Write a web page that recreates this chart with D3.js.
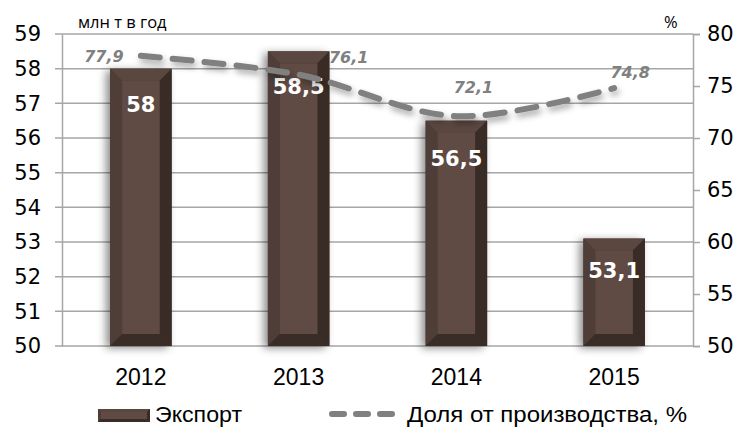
<!DOCTYPE html>
<html lang="ru">
<head>
<meta charset="utf-8">
<title>Экспорт</title>
<script src="https://cdn.jsdelivr.net/npm/d3@7"></script>
<style>
  body { margin: 0; background: #fff; }
  .tick text { fill: #000; }
</style>
</head>
<body>
<div id="chart"></div>
<script>
// data
var years = ["2012", "2013", "2014", "2015"];
var exportVals = [58, 58.5, 56.5, 53.1];
var shareVals = [77.9, 76.1, 72.1, 74.8];
var leftTicks = [50, 51, 52, 53, 54, 55, 56, 57, 58, 59];
var rightTicks = [50, 55, 60, 65, 70, 75, 80];

var width = 745, height = 428;
var m = {left: 62, right: 52, top: 34, bottom: 82};

var svg = d3.select("#chart").append("svg")
    .attr("width", width).attr("height", height)
    .style("font-family", "'DejaVu Sans', sans-serif");

var defs = svg.append("defs");
var sh = defs.append("filter").attr("id", "barShadow")
    .attr("x", "-40%").attr("y", "-20%").attr("width", "160%").attr("height", "140%");
sh.append("feDropShadow").attr("dx", -4).attr("dy", 2).attr("stdDeviation", 4)
    .attr("flood-color", "#000").attr("flood-opacity", 0.45);
var lsh = defs.append("filter").attr("id", "lineShadow")
    .attr("x", "-10%").attr("y", "-50%").attr("width", "120%").attr("height", "200%");
lsh.append("feDropShadow").attr("dx", 2).attr("dy", 4).attr("stdDeviation", 3)
    .attr("flood-color", "#000").attr("flood-opacity", 0.35);

var x = d3.scaleBand().domain(years).range([m.left, width - m.right]).paddingInner(0.61).paddingOuter(0.305);
var y = d3.scaleLinear().domain([50, 59]).range([height - m.bottom, m.top]);
var y2 = d3.scaleLinear().domain([50, 80]).range([height - m.bottom, m.top]);
var xc = function(d) { return x(d) + x.bandwidth() / 2; };

// gridlines
svg.append("g").selectAll("line").data(leftTicks).enter().append("line")
    .attr("x1", m.left - 7).attr("x2", width - m.right)
    .attr("y1", function(d) { return y(d); }).attr("y2", function(d) { return y(d); })
    .attr("stroke", "#a6a6a6").attr("stroke-width", 1.5);

// axes
var la = svg.append("g").attr("transform", "translate(" + m.left + ",0)")
    .call(d3.axisLeft(y).tickValues(leftTicks).tickSize(0).tickPadding(21));
la.select(".domain").attr("stroke", "#a6a6a6").attr("stroke-width", 1.5);
la.selectAll("text").style("font-size", "21px").style("font-family", "'DejaVu Sans', sans-serif");

var ra = svg.append("g").attr("transform", "translate(" + (width - m.right) + ",0)")
    .call(d3.axisRight(y2).tickValues(rightTicks).tickSize(7).tickPadding(7));
ra.select(".domain").attr("stroke", "#a6a6a6").attr("stroke-width", 1.5);
ra.selectAll(".tick line").attr("stroke", "#a6a6a6").attr("stroke-width", 1.5);
ra.selectAll("text").style("font-size", "21px").style("font-family", "'DejaVu Sans', sans-serif");

// year labels
svg.append("g").selectAll("text").data(years).enter().append("text")
    .attr("x", xc).attr("y", 385)
    .attr("text-anchor", "middle")
    .style("font-family", "'Liberation Sans', Arial, sans-serif").style("font-size", "23px")
    .text(function(d) { return d; });

// units
svg.append("text").attr("x", 78).attr("y", 28).style("font-size", "16.5px")
    .style("font-family", "'Open Sans', sans-serif").text("млн т в год");
svg.append("text").attr("x", 664).attr("y", 28).style("font-size", "16.5px")
    .style("font-family", "'Open Sans', sans-serif").text("%");

// bevel bar
function bevelBar(g, x0, y0, w, h, bv) {
    g.append("rect").attr("x", x0).attr("y", y0).attr("width", w).attr("height", h)
        .attr("fill", "#47372f").attr("filter", "url(#barShadow)");
    var x1 = x0 + w, y1 = y0 + h;
    var poly = function(pts, c) {
        g.append("polygon").attr("points", pts.map(function(p) { return p.join(","); }).join(" ")).attr("fill", c);
    };
    poly([[x0, y0], [x1, y0], [x1 - bv, y0 + bv], [x0 + bv, y0 + bv]], "#5a4840");
    poly([[x0, y0], [x0 + bv, y0 + bv], [x0 + bv, y1 - bv], [x0, y1]], "#4f3e37");
    poly([[x1, y0], [x1, y1], [x1 - bv, y1 - bv], [x1 - bv, y0 + bv]], "#392b26");
    poly([[x0, y1], [x0 + bv, y1 - bv], [x1 - bv, y1 - bv], [x1, y1]], "#3a2d28");
    g.append("rect").attr("x", x0 + bv).attr("y", y0 + bv).attr("width", w - 2 * bv).attr("height", Math.max(0, h - 2 * bv))
        .attr("fill", "#5f4b43");
}

var bars = svg.append("g");
years.forEach(function(yr, i) {
    var g = bars.append("g");
    bevelBar(g, x(yr), y(exportVals[i]), x.bandwidth(), y(50) - y(exportVals[i]), 12);
});

// share line
var line = d3.line().x(function(d, i) { return xc(years[i]); }).y(function(d) { return y2(d); })
    .curve(d3.curveCatmullRom.alpha(0.5));
svg.append("path").datum(shareVals).attr("d", line)
    .attr("fill", "none").attr("stroke", "#808080").attr("stroke-width", 6)
    .attr("stroke-dasharray", "19,13").attr("stroke-linecap", "round")
    .attr("filter", "url(#lineShadow)");

// bar labels
var barLabOff = [43, 43, 45, 39];
bars.selectAll("text.bl").data(exportVals).enter().append("text")
    .attr("class", "bl")
    .attr("x", function(d, i) { return xc(years[i]); })
    .attr("y", function(d, i) { return y(d) + barLabOff[i]; })
    .attr("text-anchor", "middle").attr("fill", "#fff")
    .style("font-size", "21px").style("font-weight", "bold")
    .text(function(d) { return String(d).replace(".", ","); });

// share labels
var shareOff = [[-37, 6], [50, -12], [17, -23], [16, -10]];
svg.append("g").selectAll("text").data(shareVals).enter().append("text")
    .attr("x", function(d, i) { return xc(years[i]) + shareOff[i][0]; })
    .attr("y", function(d, i) { return y2(d) + shareOff[i][1]; })
    .attr("text-anchor", "middle").attr("fill", "#808080")
    .style("font-size", "16px").style("font-weight", "bold").style("font-style", "italic")
    .text(function(d) { return String(d).replace(".", ","); });

// legend
var lg = svg.append("g");
var sw = lg.append("g");
bevelBar(sw, 98, 409, 52, 13, 3);
sw.select("rect").attr("filter", null);
lg.append("text").attr("x", 155).attr("y", 422)
    .attr("textLength", 87).attr("lengthAdjust", "spacingAndGlyphs")
    .style("font-family", "'Liberation Sans', Arial, sans-serif").style("font-size", "22px").text("Экспорт");
lg.append("line").attr("x1", 332).attr("x2", 394).attr("y1", 414).attr("y2", 414)
    .attr("stroke", "#808080").attr("stroke-width", 6).attr("stroke-dasharray", "12,12").attr("stroke-linecap", "round");
lg.append("text").attr("x", 407).attr("y", 422)
    .attr("textLength", 280).attr("lengthAdjust", "spacingAndGlyphs")
    .style("font-family", "'Liberation Sans', Arial, sans-serif").style("font-size", "22px").text("Доля от производства, %");
</script>
</body>
</html>
